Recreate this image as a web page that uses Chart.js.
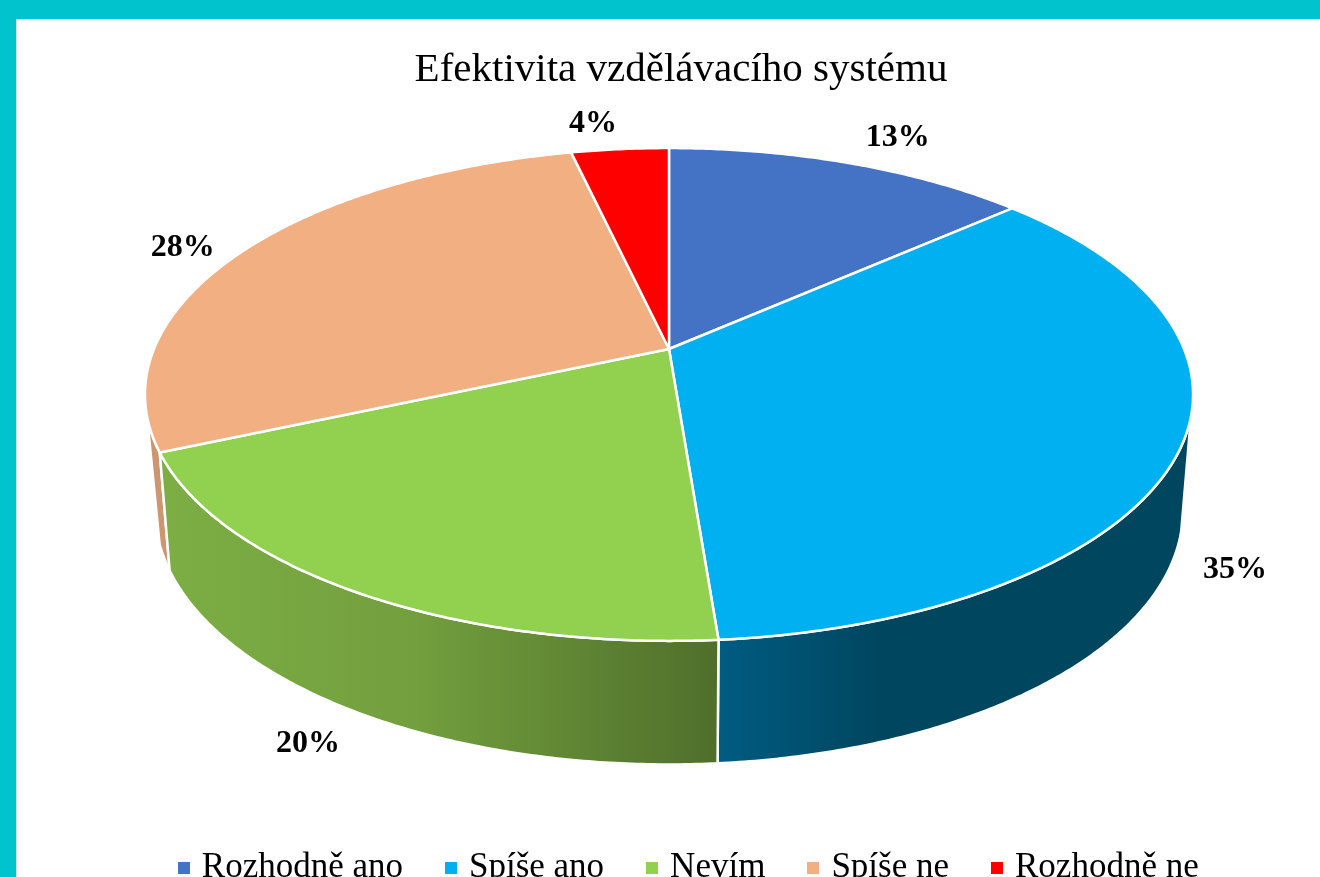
<!DOCTYPE html>
<html>
<head>
<meta charset="utf-8">
<script src="https://cdn.jsdelivr.net/npm/chart.js@4"></script>
<style>
  html, body { margin: 0; height: 100%; overflow: hidden; background: #00c3cd; }
  #edge { position: absolute; left: 16px; top: 19px; width: 1400px; height: 900px; background: #dcdcdc; }
  #effChart { position: absolute; left: 17px; top: 20px; background: #fff; }
</style>
</head>
<body>
<div id="edge"></div>
<canvas id="effChart" width="1348" height="875"></canvas>
<script>
const categories = ['Rozhodně ano', 'Spíše ano', 'Nevím', 'Spíše ne', 'Rozhodně ne'];
const shares = [13.45, 35.3, 19.65, 28, 3.6];
const shareLabels = ['13%', '35%', '20%', '28%', '4%'];
const sliceColors = ['#4472c4', '#00b0f0', '#92d050', '#f2af82', '#ff0000'];

// the pie is tilted in perspective, so canvas arcs can't do it: project the angles by hand
const topFace = { cx: 652, cy: 329, a: 515, b: 238, k: -0.1846 };
const baseFace = { cx: 652, cy: 444, a: 505, b: 245, k: -0.1846 };
const deg = Math.PI / 180;
const labelNudge = [[48, -25], [63, 7], [-53, 30], [-61, -3], [-27, -25]];

function project(face, theta) {
    const x = Math.sin(theta), y = -Math.cos(theta);
    const d = 1 + face.k * y;
    return [face.cx + face.a * x / d, face.cy + face.b * y / d];
}

function arcPoints(face, from, to) {
    const pts = [];
    const steps = Math.max(2, Math.ceil(Math.abs(to - from) / (deg / 2)));
    for (let i = 0; i <= steps; i++) {
        pts.push(project(face, from + (to - from) * i / steps));
    }
    return pts;
}

function fillPath(ctx, pts, fill) {
    ctx.beginPath();
    pts.forEach((p, i) => i ? ctx.lineTo(p[0], p[1]) : ctx.moveTo(p[0], p[1]));
    ctx.closePath();
    ctx.fillStyle = fill;
    ctx.fill();
    ctx.strokeStyle = '#fff';
    ctx.lineWidth = 2.5;
    ctx.lineJoin = 'round';
    ctx.stroke();
}

function wallFill(ctx, index) {
    if (index === 1) {
        const g = ctx.createLinearGradient(701, 0, 860, 0);
        g.addColorStop(0, '#005c82');
        g.addColorStop(1, '#00465f');
        return g;
    }
    if (index === 2) {
        const g = ctx.createLinearGradient(150, 0, 700, 0);
        g.addColorStop(0, '#7cae44');
        g.addColorStop(0.45, '#739f3e');
        g.addColorStop(1, '#4f6f2b');
        return g;
    }
    return '#cc9670';
}

const pie3d = {
    id: 'pie3d',
    beforeDatasetsDraw(chart) {
        const ctx = chart.ctx;
        const arcs = chart.getDatasetMeta(0).data;
        const angles = arcs.map(a => [a.startAngle + Math.PI / 2, a.endAngle + Math.PI / 2]);

        // walls first, back to front
        [3, 1, 2].forEach(i => {
            const s = angles[i][0], e = angles[i][1];
            const upperFrom = Math.max(s, 105.5 * deg), upperTo = Math.min(e, 254.5 * deg);
            const lowerFrom = Math.max(s, 105 * deg), lowerTo = Math.min(e, 252 * deg);
            if (upperTo <= upperFrom) return;
            const pts = arcPoints(topFace, upperFrom, upperTo)
                .concat(arcPoints(baseFace, lowerTo, lowerFrom));
            fillPath(ctx, pts, wallFill(ctx, i));
        });

        // top face
        angles.forEach((range, i) => {
            const pts = arcPoints(topFace, range[0], range[1]);
            pts.push([topFace.cx, topFace.cy]);
            fillPath(ctx, pts, sliceColors[i]);
        });

        // data labels
        ctx.fillStyle = '#000';
        ctx.font = 'bold 32px "Liberation Serif"';
        ctx.textAlign = 'center';
        ctx.textBaseline = 'middle';
        angles.forEach((range, i) => {
            const mid = (range[0] + range[1]) / 2;
            const front = mid > 107.5 * deg && mid < 252.5 * deg;
            const p = project(front ? baseFace : topFace, mid);
            ctx.fillText(shareLabels[i], p[0] + labelNudge[i][0], p[1] + labelNudge[i][1]);
        });
        return false;
    },
    afterLayout(chart) {
        // title sits a bit left of the legend centre
        chart.titleBlock.left -= 20;
    }
};

function legendSquare(color) {
    const c = document.createElement('canvas');
    c.width = 12;
    c.height = 12;
    const g = c.getContext('2d');
    g.fillStyle = color;
    g.fillRect(0, 0, 12, 12);
    return c;
}

new Chart(document.getElementById('effChart'), {
    type: 'pie',
    data: {
        labels: categories,
        datasets: [{
            data: shares,
            backgroundColor: sliceColors
        }]
    },
    options: {
        responsive: false,
        animation: false,
        plugins: {
            title: {
                display: true,
                text: 'Efektivita vzdělávacího systému',
                color: '#000',
                font: { family: '"Liberation Serif"', size: 41, weight: 'normal' },
                padding: { top: 26, bottom: 10 }
            },
            legend: {
                position: 'bottom',
                labels: {
                    color: '#000',
                    font: { family: '"Liberation Serif"', size: 35 },
                    usePointStyle: true,
                    pointStyleWidth: 1,
                    padding: 47.5,
                    generateLabels: chart => categories.map((text, i) => ({
                        text: text,
                        pointStyle: legendSquare(sliceColors[i]),
                        index: i,
                        hidden: false
                    }))
                }
            },
            tooltip: { enabled: false }
        }
    },
    plugins: [pie3d]
});
</script>
</body>
</html>
